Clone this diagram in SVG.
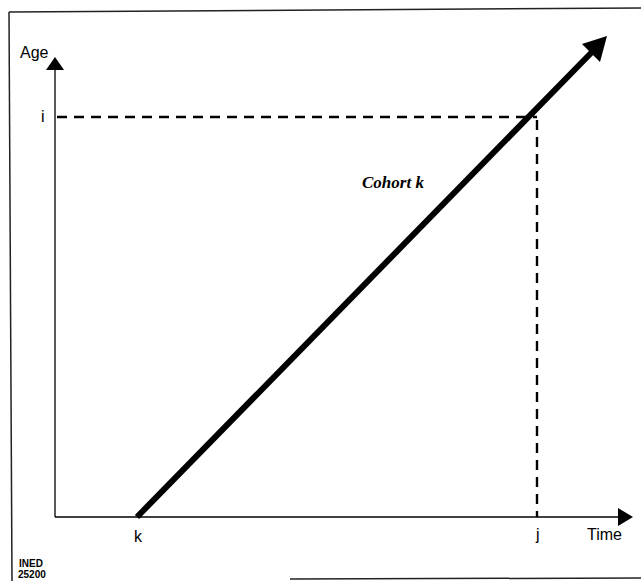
<svg xmlns="http://www.w3.org/2000/svg" width="641" height="581" viewBox="0 0 641 581">
<style>
.lbl{font-family:"Liberation Sans",Arial,sans-serif;font-size:16px;fill:#000}
.small{font-family:"Liberation Sans",Arial,sans-serif;font-size:10px;font-weight:bold;fill:#000}
.axis{stroke:#000;stroke-width:1.3;fill:none}
.dash{stroke:#000;stroke-width:2.4;stroke-dasharray:10,7;fill:none}
.frame{stroke:#222;stroke-width:1.5;fill:none}
</style>
<g id="frame">
<path class="frame" d="M9,12 L641,8"/>
<path class="frame" d="M9,12 L12,581"/>
<path class="frame" d="M290,579 L641,578"/>
</g>
<g id="connectors">
<line class="axis" x1="55" y1="517" x2="55" y2="66"/>
<polygon points="55,57 46,70 64,70" fill="#000"/>
<line class="axis" x1="55" y1="517" x2="620" y2="517"/>
<polygon points="633,517 618,508 618,526" fill="#000"/>
<line class="dash" x1="57" y1="117" x2="537" y2="117"/>
<line class="dash" x1="537" y1="120" x2="537" y2="517"/>
<line x1="137" y1="517" x2="592" y2="52" stroke="#000" stroke-width="6"/>
<polygon points="607,36 600,62 582,44" fill="#000"/>
</g>
<g id="labels">
<text class="lbl" x="20" y="58">Age</text>
<text class="lbl" x="41" y="122">i</text>
<text class="lbl" x="134" y="542">k</text>
<text class="lbl" x="536" y="540">j</text>
<text class="lbl" x="587" y="540">Time</text>
<text x="362" y="188" font-family="Liberation Serif,Times New Roman,serif" font-size="17" font-style="italic" font-weight="bold">Cohort k</text>
<text class="small" x="19" y="567">INED</text>
<text class="small" x="18" y="578">25200</text>
</g>
</svg>
